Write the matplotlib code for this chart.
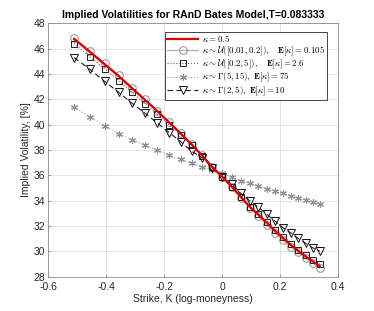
import numpy as np
import matplotlib
matplotlib.use("Agg")
import matplotlib.pyplot as plt

plt.rcParams["font.family"] = ["Liberation Sans", "DejaVu Sans"]
plt.rcParams["mathtext.fontset"] = "cm"
plt.rcParams["axes.unicode_minus"] = False

# strikes 0.6 .. 1.4 in 25 steps, plotted as log-moneyness
strikes = np.linspace(0.6, 1.4, 25)
k = np.log(strikes)

iv_fixed = [46.76, 45.76, 44.77, 43.83, 42.86, 41.95, 41.06, 40.17, 39.31, 38.45, 37.56, 36.66, 35.90,
            35.12, 34.30, 33.52, 32.90, 32.28, 31.63, 31.06, 30.53, 30.05, 29.62, 29.22, 28.84]
iv_u1 = [46.86, 45.84, 44.84, 43.90, 42.92, 42.00, 41.10, 40.20, 39.34, 38.47, 37.58, 36.63, 35.90,
         35.10, 34.24, 33.45, 32.79, 32.08, 31.42, 30.90, 30.37, 29.92, 29.45, 29.06, 28.70]
iv_u2 = [46.40, 45.37, 44.42, 43.47, 42.55, 41.65, 40.82, 40.00, 39.18, 38.37, 37.53, 36.63, 35.90,
         35.10, 34.31, 33.52, 32.95, 32.34, 31.69, 31.11, 30.58, 30.10, 29.68, 29.30, 28.99]
iv_g1 = [41.37, 40.63, 39.92, 39.29, 38.81, 38.37, 37.98, 37.60, 37.27, 36.95, 36.68, 36.42, 36.16,
         35.85, 35.58, 35.37, 35.18, 34.92, 34.74, 34.58, 34.39, 34.18, 34.05, 33.92, 33.74]
iv_g2 = [45.30, 44.37, 43.42, 42.55, 41.68, 40.90, 40.13, 39.37, 38.66, 37.90, 37.40, 36.60, 35.90,
         35.29, 34.58, 34.00, 33.48, 32.93, 32.40, 31.87, 31.47, 31.03, 30.64, 30.29, 30.03]

labels = [
    r"$\kappa = 0.5$",
    r"$\kappa \sim \mathcal{U}([0.01,0.2]),\quad \mathbf{E}[\kappa]=0.105$",
    r"$\kappa \sim \mathcal{U}([0.2,5]),\quad \mathbf{E}[\kappa]=2.6$",
    r"$\kappa \sim \Gamma(5,15),\ \mathbf{E}[\kappa]=75$",
    r"$\kappa \sim \Gamma(2,5),\ \mathbf{E}[\kappa]=10$",
]

TXT = "#262626"

fig = plt.figure(figsize=(3.74, 3.11), dpi=100)
ax = fig.add_axes([0.129, 0.110, 0.775, 0.815])

ax.plot(k, iv_fixed, color="#e00000", lw=1.6, label=labels[0], zorder=5)
ax.plot(k, iv_u1, color="#b0b0b0", lw=0.9, ls="-", marker="o", ms=5.5, mfc="none",
        mec="#909090", mew=0.7, label=labels[1], zorder=3)
ax.plot(k, iv_u2, color="#606060", lw=0.8, ls=":", marker="s", ms=4.2, mfc="none",
        mec="#202020", mew=0.7, label=labels[2], zorder=4)
ax.plot(k, iv_g1, color="#a0a0a0", lw=0.8, ls=":", marker=(6, 2, 0), ms=5, mec="#909090",
        mew=0.8, label=labels[3], zorder=3)
ax.plot(k, iv_g2, color="#202020", lw=0.8, ls=(0, (5, 3)), marker="v", ms=6, mfc="none",
        mec="#101010", mew=0.7, label=labels[4], zorder=4)

ax.set_xlim(-0.6, 0.4)
ax.set_ylim(28, 48)
ax.set_xticks(np.arange(-0.6, 0.41, 0.2))
ax.set_xticklabels(["-0.6", "-0.4", "-0.2", "0", "0.2", "0.4"])
ax.set_yticks(np.arange(28, 49, 2))
ax.grid(True, color="#e0e0e0", lw=0.6)
ax.set_axisbelow(True)
for s in ax.spines.values():
    s.set_color("#8c8c8c")
    s.set_linewidth(0.6)
ax.tick_params(direction="in", length=2.5, width=0.6, color="#8c8c8c", labelsize=7.5, labelcolor=TXT)
ax.tick_params(axis="x", pad=3.5)
ax.tick_params(axis="y", pad=2)

ax.set_title("Implied Volatilities for RAnD Bates Model,T=0.083333", fontsize=7.5, fontweight="bold",
             color="black", pad=4)
ax.set_xlabel("Strike, K (log-moneyness)", fontsize=7.5, color=TXT, labelpad=2)
ax.set_ylabel("Implied Volatility, [%]", fontsize=7.5, color=TXT, labelpad=2)

leg = ax.legend(loc="upper right", bbox_to_anchor=(0.96, 0.967), fontsize=6.4, fancybox=False,
                framealpha=1, edgecolor="#262626", handlelength=3.5, borderpad=0.2,
                labelspacing=0.0, handletextpad=0.4, borderaxespad=0)
leg.get_frame().set_linewidth(0.6)

fig.savefig("out.png", dpi=100)
